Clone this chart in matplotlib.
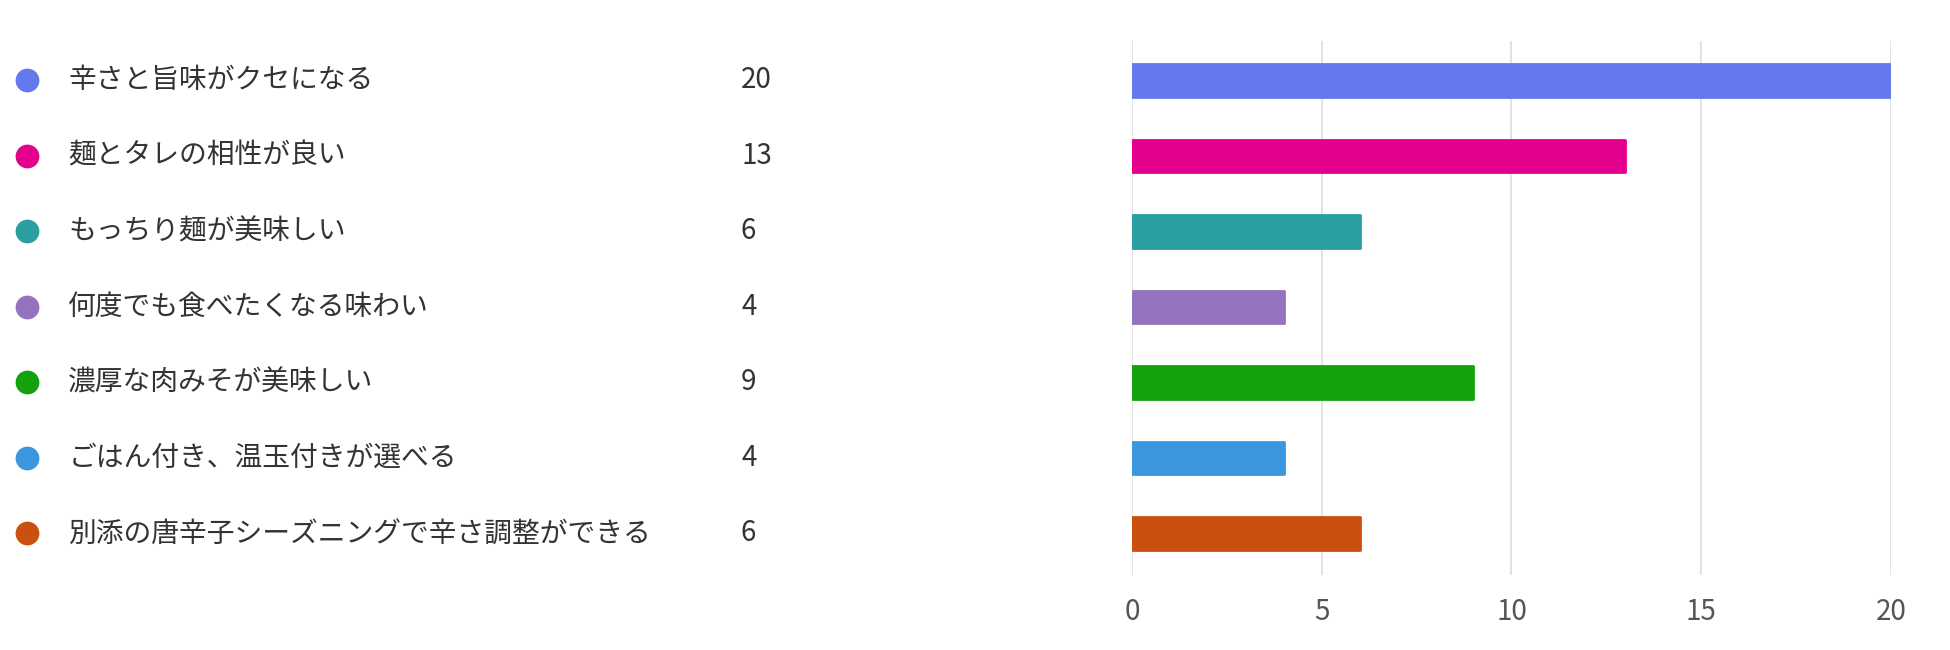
import matplotlib
matplotlib.use("Agg")
import matplotlib.pyplot as plt
from matplotlib.transforms import blended_transform_factory

plt.rcParams['font.family'] = ['Noto Sans CJK JP', 'DejaVu Sans']

# データ
categories = [
    "辛さと旨味がクセになる",
    "麺とタレの相性が良い",
    "もっちり麺が美味しい",
    "何度でも食べたくなる味わい",
    "濃厚な肉みそが美味しい",
    "ごはん付き、温玉付きが選べる",
    "別添の唐辛子シーズニングで辛さ調整ができる",
]
counts = [20, 13, 6, 4, 9, 4, 6]
colors = ["#6579EE", "#E3008C", "#2A9FA2", "#9373BE", "#13A10E", "#3A96DD", "#CA5010"]
x_ticks = [0, 5, 10, 15, 20]

fig = plt.figure(figsize=(19.5, 6.5), dpi=100)
fig.patch.set_facecolor('white')
ax = fig.add_axes([0.5805, 0.1154, 0.3892, 0.8215])

y = list(range(len(categories)))
ax.barh(y, counts, height=0.43, color=colors, edgecolor=colors,
        linewidth=2, joinstyle='round', zorder=3)

ax.set_xlim(0, 20)
ax.set_ylim(6.55, -0.52)
ax.set_xticks(x_ticks)
ax.set_yticks([])
ax.xaxis.grid(True, color='#e1e1e1', linewidth=1.3, zorder=0)
ax.set_axisbelow(True)
for s in ax.spines.values():
    s.set_visible(False)
ax.tick_params(axis='x', length=0, pad=16, labelsize=20, labelcolor='#555555')

# 左側の凡例（ドット + ラベル + 件数）
tr = blended_transform_factory(fig.transFigure, ax.transData)
for i, (cat, n, c) in enumerate(zip(categories, counts, colors)):
    ax.scatter([0.0138], [i], s=260, color=c, transform=tr, clip_on=False, zorder=4)
    ax.text(0.035, i, cat, transform=tr, ha='left', va='center',
            fontsize=20, color='#333333')
    ax.text(0.380, i, str(n), transform=tr, ha='left', va='center',
            fontsize=20, color='#333333')

plt.savefig("out.png", dpi=100)
